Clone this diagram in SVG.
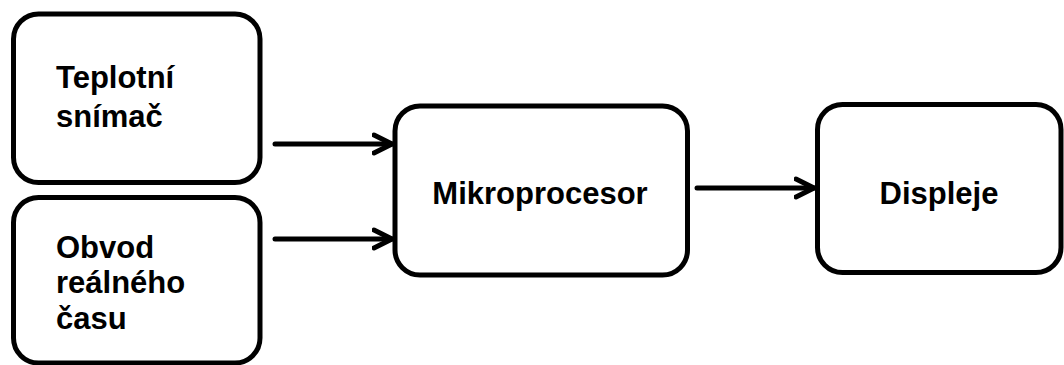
<svg xmlns="http://www.w3.org/2000/svg" width="1064" height="365" viewBox="0 0 1064 365">
  <style>
    .box { fill: #ffffff; stroke: #000000; stroke-width: 5; }
    .label { font-family: "Liberation Sans", Arial, sans-serif; font-weight: bold; font-size: 31px; fill: #000000; }
    .wire { fill: none; stroke: #000000; stroke-width: 5; stroke-linecap: round; stroke-linejoin: round; }
  </style>
  <defs>
    <marker id="chevron" viewBox="0 0 24 24" refX="20" refY="12" markerWidth="24" markerHeight="24" markerUnits="userSpaceOnUse" orient="auto">
      <path d="M2 3 L20 12 L2 21" fill="none" stroke="#000000" stroke-width="5" stroke-linecap="round" stroke-linejoin="round"/>
    </marker>
  </defs>
  <rect width="1064" height="365" fill="#ffffff"/>

  <g id="teplotni-snimac">
    <rect class="box" x="13.5" y="14" width="246.5" height="168.5" rx="25" ry="25"/>
    <text class="label" x="56" y="87.5">Teplotní</text>
    <text class="label" x="56" y="126.5">snímač</text>
  </g>

  <g id="obvod-realneho-casu">
    <rect class="box" x="13.5" y="197.5" width="246.5" height="165.5" rx="25" ry="25"/>
    <text class="label" x="56" y="257.5">Obvod</text>
    <text class="label" x="56" y="293">reálného</text>
    <text class="label" x="56" y="328.5">času</text>
  </g>

  <g id="mikroprocesor">
    <rect class="box" x="395" y="106" width="292.5" height="169" rx="25" ry="25"/>
    <text class="label" x="540" y="203.5" text-anchor="middle">Mikroprocesor</text>
  </g>

  <g id="displeje">
    <rect class="box" x="817.5" y="104.5" width="243.5" height="168" rx="25" ry="25"/>
    <text class="label" x="939" y="203.5" text-anchor="middle">Displeje</text>
  </g>

  <g id="connectors">
    <path class="wire" d="M275 144 L392 144" marker-end="url(#chevron)"/>
    <path class="wire" d="M275 239 L392 239" marker-end="url(#chevron)"/>
    <path class="wire" d="M697 188 L814 188" marker-end="url(#chevron)"/>
  </g>
</svg>
